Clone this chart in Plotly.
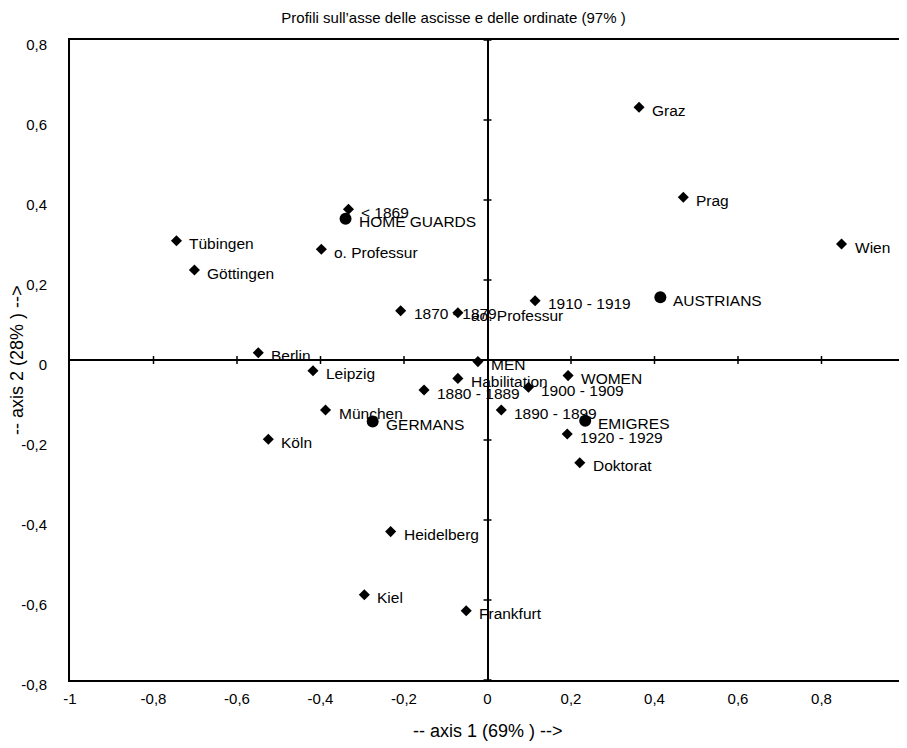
import plotly.graph_objects as go

# ---- data ----
PROFILE_NAMES = ["Graz", "Prag", "Wien", "< 1869", "Tübingen", "o. Professur", "Göttingen",
                 "1870 - 1879", "ao. Professur", "1910 - 1919", "Berlin", "MEN", "Leipzig",
                 "WOMEN", "Habilitation", "1900 - 1909", "1880 - 1889", "München",
                 "1890 - 1899", "1920 - 1929", "Köln", "Doktorat", "Heidelberg", "Kiel",
                 "Frankfurt"]
PROFILE_AXIS1 = [0.363, 0.469, 0.848, -0.333, -0.745, -0.398, -0.702,
                 -0.208, -0.071, 0.114, -0.549, -0.023, -0.418,
                 0.193, -0.071, 0.098, -0.152, -0.388,
                 0.033, 0.191, -0.525, 0.221, -0.232, -0.295,
                 -0.051]
PROFILE_AXIS2 = [0.632, 0.407, 0.290, 0.377, 0.298, 0.277, 0.225,
                 0.123, 0.118, 0.148, 0.018, -0.004, -0.027,
                 -0.039, -0.046, -0.068, -0.075, -0.125,
                 -0.125, -0.185, -0.198, -0.257, -0.429, -0.587,
                 -0.627]

GROUP_NAMES = ["HOME GUARDS", "AUSTRIANS", "GERMANS", "EMIGRES"]
GROUP_AXIS1 = [-0.340, 0.414, -0.275, 0.234]
GROUP_AXIS2 = [0.353, 0.157, -0.154, -0.152]

X_TICKS = [-1, -0.8, -0.6, -0.4, -0.2, 0, 0.2, 0.4, 0.6, 0.8, 1]
X_TICK_LABELS = ["-1", "-0,8", "-0,6", "-0,4", "-0,2", "0", "0,2", "0,4", "0,6", "0,8", "1"]
Y_TICKS = [-0.8, -0.6, -0.4, -0.2, 0, 0.2, 0.4, 0.6, 0.8]
Y_TICK_LABELS = ["-0,8", "-0,6", "-0,4", "-0,2", "0", "0,2", "0,4", "0,6", "0,8"]

TITLE = "Profili sull’asse delle ascisse e delle ordinate (97% )"
X_TITLE = "-- axis 1 (69% ) -->"
Y_TITLE = "-- axis 2 (28% ) -->"

FONT = "Liberation Sans, Arial, sans-serif"

fig = go.Figure()
fig.add_trace(go.Scatter(
    x=PROFILE_AXIS1, y=PROFILE_AXIS2, mode="markers",
    marker=dict(symbol="diamond", size=8.5, color="black", line=dict(width=0)),
    hoverinfo="skip", showlegend=False))
fig.add_trace(go.Scatter(
    x=GROUP_AXIS1, y=GROUP_AXIS2, mode="markers",
    marker=dict(symbol="circle", size=12, color="black", line=dict(width=0)),
    hoverinfo="skip", showlegend=False))

annotations = []
for name, xv, yv in list(zip(PROFILE_NAMES, PROFILE_AXIS1, PROFILE_AXIS2)) + \
        list(zip(GROUP_NAMES, GROUP_AXIS1, GROUP_AXIS2)):
    annotations.append(dict(x=xv, y=yv, xref="x", yref="y", text=name, showarrow=False,
                            xanchor="left", yanchor="middle", xshift=11, yshift=-3,
                            font=dict(family=FONT, size=15.5, color="black")))

annotations.append(dict(x=0.5, y=0, xref="paper", yref="paper", text=X_TITLE,
                        showarrow=False, xanchor="center", yanchor="middle", yshift=-51,
                        font=dict(family=FONT, size=18, color="black")))
annotations.append(dict(x=0, y=0.5, xref="paper", yref="paper", text=Y_TITLE,
                        showarrow=False, xanchor="center", yanchor="middle", xshift=-53,
                        textangle=-90, font=dict(family=FONT, size=18, color="black")))

# cross tick marks on the zero axes, from the tick lists
shapes = []
for t in X_TICKS[1:-1]:
    if t == 0:
        continue
    shapes.append(dict(type="line", xref="x", yref="y", x0=t, x1=t,
                       ysizemode="pixel", yanchor=0, y0=-4, y1=4,
                       line=dict(color="black", width=1.5)))
for t in Y_TICKS:
    if t == 0:
        continue
    shapes.append(dict(type="line", xref="x", yref="y", y0=t, y1=t,
                       xsizemode="pixel", xanchor=0, x0=-4, x1=4,
                       line=dict(color="black", width=1.5)))

# the page body adds an 8 px offset, so the figure is 8 px smaller than the window
fig.update_layout(
    width=899, height=740,
    margin=dict(l=62, r=2, t=32, b=68, autoexpand=False),
    paper_bgcolor="white", plot_bgcolor="white",
    title=dict(text=TITLE, x=0.4956, xref="container", xanchor="center",
               y=1 - 10 / 740, yref="container", yanchor="middle",
               font=dict(family=FONT, size=15, color="black")),
    annotations=annotations,
    shapes=shapes,
    showlegend=False,
)
fig.update_xaxes(range=[-1, 1], tickvals=X_TICKS, ticktext=X_TICK_LABELS, automargin=False,
                 showgrid=False, zeroline=True, zerolinecolor="black", zerolinewidth=2,
                 showline=True, mirror=True, linecolor="black", linewidth=2,
                 ticks="", ticklabelstandoff=4,
                 tickfont=dict(family=FONT, size=15, color="black"))
fig.update_yaxes(range=[-0.8, 0.8], tickvals=Y_TICKS, ticktext=Y_TICK_LABELS, automargin=False,
                 showgrid=False, zeroline=True, zerolinecolor="black", zerolinewidth=2,
                 showline=True, mirror=True, linecolor="black", linewidth=2,
                 ticks="", ticklabelstandoff=18, ticklabelshift=5,
                 tickfont=dict(family=FONT, size=15, color="black"))

fig.write_html("out.html")
